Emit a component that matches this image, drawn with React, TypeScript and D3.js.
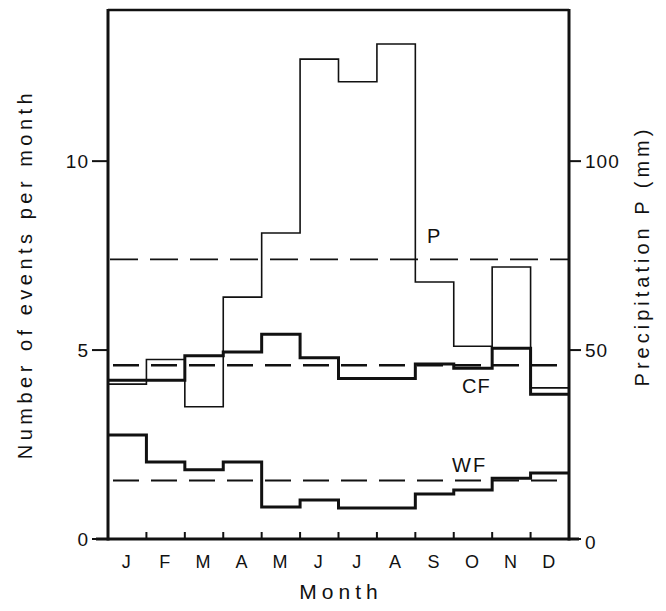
import React from 'react';
import * as d3 from 'd3';

const months = ['J', 'F', 'M', 'A', 'M', 'J', 'J', 'A', 'S', 'O', 'N', 'D'];
// events per month
const cfValues = [4.2, 4.2, 4.85, 4.95, 5.42, 4.8, 4.25, 4.25, 4.63, 4.52, 5.05, 3.83];
const wfValues = [2.75, 2.04, 1.83, 2.04, 0.85, 1.03, 0.82, 0.82, 1.19, 1.3, 1.61, 1.75];
// precipitation (mm)
const precipValues = [41, 47.5, 35, 64, 81, 127, 121, 131, 68, 51, 72, 40];
const means = { P: 74, CF: 4.6, WF: 1.55 };
const leftTicks = [0, 5, 10];
const rightTicks = [0, 50, 100];

const W = 666;
const H = 611;
const left = 108;
const right = 569;
const top = 10;
const bottom = 539;

const font = '"Liberation Sans", Arial, Helvetica, sans-serif';

const App = () => {
  const x = d3.scaleLinear().domain([0, 12]).range([left, right]);
  const y = d3.scaleLinear().domain([0, 14]).range([bottom, top]);
  const yP = d3.scaleLinear().domain([0, 140]).range([bottom, top]);

  // step line: one point per month start plus closing point at month 12
  const stepPath = (vals, scale) => {
    const pts = vals.map((v, i) => [i, v]);
    pts.push([12, vals[vals.length - 1]]);
    return d3.line()
      .x(d => x(d[0]))
      .y(d => scale(d[1]))
      .curve(d3.curveStepAfter)(pts);
  };

  return (
    <svg width={W} height={H} style={{ position: 'absolute', left: 0, top: 0, background: '#fff' }}
      fontFamily={font}>
      {/* mean lines */}
      <line x1={x(0) + 2} x2={x(12)} y1={yP(means.P)} y2={yP(means.P)}
        stroke="#111" strokeWidth={1.6} strokeDasharray="28,12" />
      <line x1={x(0) + 5} x2={x(12)} y1={y(means.CF)} y2={y(means.CF)}
        stroke="#111" strokeWidth={2.4} strokeDasharray="26,12" />
      <line x1={x(0) + 5} x2={x(12)} y1={y(means.WF)} y2={y(means.WF)}
        stroke="#111" strokeWidth={2} strokeDasharray="26,12" />

      {/* series */}
      <path d={stepPath(precipValues, yP)} fill="none" stroke="#111" strokeWidth={1.6} />
      <path d={stepPath(cfValues, y)} fill="none" stroke="#111" strokeWidth={3} />
      <path d={stepPath(wfValues, y)} fill="none" stroke="#111" strokeWidth={3} />

      {/* frame */}
      <line x1={left} x2={right} y1={top} y2={top} stroke="#111" strokeWidth={2.5} />
      <line x1={left} x2={left} y1={top - 1} y2={bottom + 1.5} stroke="#111" strokeWidth={3} />
      <line x1={right} x2={right} y1={top - 1} y2={bottom + 1.5} stroke="#111" strokeWidth={3} />
      <line x1={left - 12} x2={right + 10} y1={bottom} y2={bottom} stroke="#111" strokeWidth={3} />

      {/* month ticks (inside) */}
      {d3.range(1, 12).map(i => (
        <line key={i} x1={x(i)} x2={x(i)} y1={bottom} y2={bottom - 7} stroke="#111" strokeWidth={2} />
      ))}
      {months.map((m, i) => (
        <text key={i} x={x(i + 0.5) - 1} y={568} textAnchor="middle" fontSize={18} fill="#111">{m}</text>
      ))}
      <text x={341} y={599} textAnchor="middle" fontSize={21} letterSpacing={5} fill="#111">Month</text>

      {/* left axis */}
      {leftTicks.map(t => (
        <g key={t}>
          <line x1={left - 16} x2={left} y1={y(t)} y2={y(t)} stroke="#111" strokeWidth={2} />
          <text x={left - 19} y={y(t) + 7} textAnchor="end" fontSize={19} letterSpacing={1} fill="#111">{t}</text>
        </g>
      ))}
      <text transform="translate(32,274) rotate(-90)" textAnchor="middle" fontSize={20}
        letterSpacing={4.5} fill="#111">Number of events per month</text>

      {/* right axis */}
      {rightTicks.map(t => (
        <g key={t}>
          <line x1={right} x2={right + 12} y1={yP(t)} y2={yP(t)} stroke="#111" strokeWidth={2} />
          <text x={right + 16} y={yP(t) + 7 + (t === 0 ? 3 : 0)} fontSize={19} letterSpacing={1} fill="#111">{t}</text>
        </g>
      ))}
      <text transform="translate(649,256) rotate(-90)" textAnchor="middle" fontSize={20}
        letterSpacing={4} fill="#111">Precipitation P (mm)</text>

      {/* series labels */}
      <text x={427} y={243} fontSize={20} fill="#111">P</text>
      <text x={462} y={393} fontSize={20} letterSpacing={1} fill="#111">CF</text>
      <text x={452} y={472} fontSize={20} letterSpacing={2} fill="#111">WF</text>
    </svg>
  );
};

export default App;
